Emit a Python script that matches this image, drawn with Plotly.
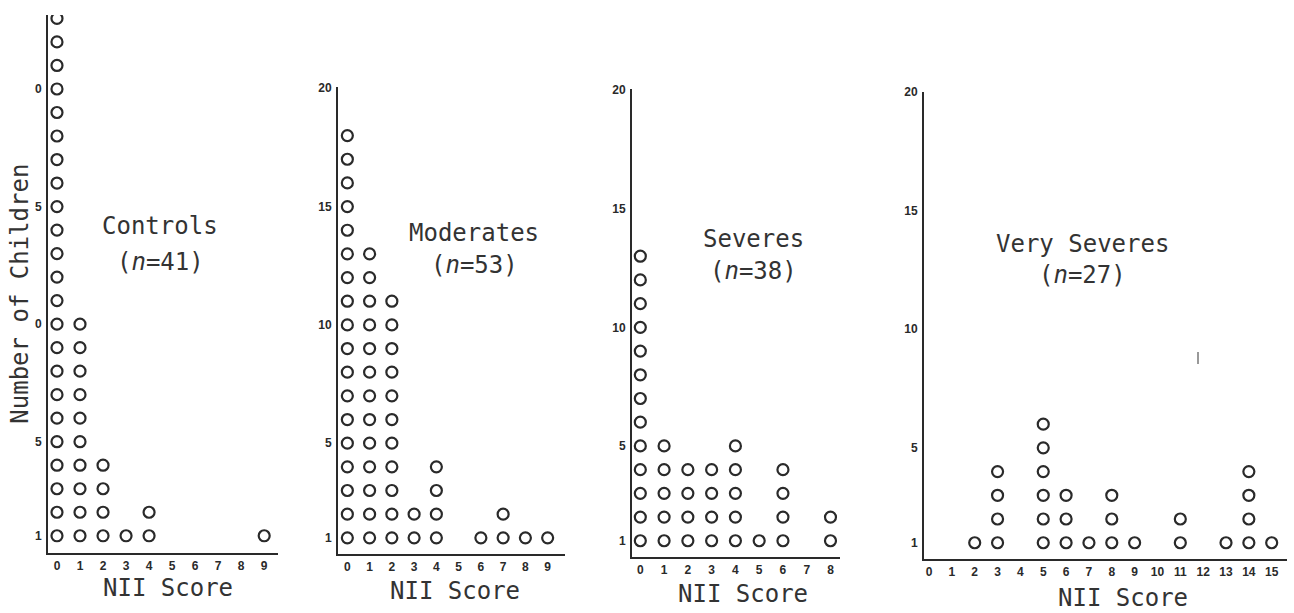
import plotly.graph_objects as go

W, H = 1294, 613

# Number of children at each NII score, one list per severity group
controls_scores = [0, 1, 2, 3, 4, 9]
controls_counts = [23, 10, 4, 1, 2, 1]

moderates_scores = [0, 1, 2, 3, 4, 6, 7, 8, 9]
moderates_counts = [18, 13, 11, 2, 4, 1, 2, 1, 1]

severes_scores = [0, 1, 2, 3, 4, 5, 6, 8]
severes_counts = [13, 5, 4, 4, 5, 1, 4, 2]

very_severes_scores = [2, 3, 5, 6, 7, 8, 9, 11, 13, 14, 15]
very_severes_counts = [1, 4, 6, 3, 1, 3, 1, 2, 1, 4, 1]

group_titles = ["Controls", "Moderates", "Severes", "Very Severes"]
group_sizes = [41, 53, 38, 27]

x_tick_sets = [list(range(10)), list(range(10)), list(range(9)), list(range(16))]
y_tick_vals = [1, 5, 10, 15, 20]
y_tick_texts = [
    ["1", "5", "0", "5", "0"],
    ["1", "5", "10", "15", "20"],
    ["1", "5", "10", "15", "20"],
    ["1", "5", "10", "15", "20"],
]

groups = [
    (controls_scores, controls_counts),
    (moderates_scores, moderates_counts),
    (severes_scores, severes_counts),
    (very_severes_scores, very_severes_counts),
]

INK = "#2a2a2a"

# Panel frames in pixels: (left, right, top, bottom) and axis ranges
frames = [
    dict(px=(48, 278, 8, 552), xr=(-0.39, 9.6), yr=(0.28, 23.15)),
    dict(px=(338, 565, 81, 553), xr=(-0.42, 9.78), yr=(0.33, 20.05)),
    dict(px=(632, 840, 83, 556), xr=(-0.35, 8.4), yr=(0.33, 20.05)),
    dict(px=(924, 1287, 86, 558), xr=(-0.22, 15.67), yr=(0.33, 20.0)),
]
title_pos = [(160, 222, 258), (474, 229, 261), (753, 235, 267), (1082, 240, 271)]
xlabel_pos = [(168, 588), (455, 591), (743, 594), (1123, 598)]

TICK_FONT = dict(family="Liberation Sans", size=12, color=INK, weight="bold")
TEXT_FONT = dict(family="DejaVu Sans Mono", size=24, color="#333333")


def fx(p):
    return p / W


def fy(p):
    return 1 - p / H


fig = go.Figure()
layout = dict(
    width=W, height=H,
    margin=dict(l=0, r=0, t=0, b=0),
    paper_bgcolor="white", plot_bgcolor="white",
    showlegend=False,
    annotations=[], shapes=[],
)

for i, ((scores, counts), fr) in enumerate(zip(groups, frames)):
    xs, ys = [], []
    for s, c in zip(scores, counts):
        for k in range(1, c + 1):
            xs.append(s)
            ys.append(k)
    n = "" if i == 0 else str(i + 1)
    fig.add_trace(go.Scatter(
        x=xs, y=ys, mode="markers",
        xaxis="x" + n, yaxis="y" + n,
        marker=dict(symbol="circle-open", size=11, color=INK,
                    line=dict(width=2.2, color=INK)),
        hoverinfo="x+y",
    ))
    l, r, t, b = fr["px"]
    layout["xaxis" + n] = dict(
        domain=[fx(l), fx(r)], range=list(fr["xr"]), anchor="y" + n,
        showline=True, linecolor=INK, linewidth=2, showgrid=False,
        zeroline=False, ticks="", tickmode="array",
        tickvals=x_tick_sets[i], ticktext=[str(v) for v in x_tick_sets[i]],
        tickfont=TICK_FONT, ticklabelstandoff=1,
    )
    layout["yaxis" + n] = dict(
        domain=[fy(b), fy(t)], range=list(fr["yr"]), anchor="x" + n,
        showline=True, linecolor=INK, linewidth=2, showgrid=False,
        zeroline=False, ticks="", tickmode="array",
        tickvals=y_tick_vals, ticktext=y_tick_texts[i],
        tickfont=TICK_FONT, ticklabelstandoff=2,
    )
    cx, y1, y2 = title_pos[i]
    layout["annotations"].append(dict(
        x=fx(cx), y=fy(y1), xref="paper", yref="paper", showarrow=False,
        text=group_titles[i], xanchor="center", yanchor="middle",
        font=TEXT_FONT,
    ))
    layout["annotations"].append(dict(
        x=fx(cx), y=fy(y2), xref="paper", yref="paper", showarrow=False,
        text="(<i>n</i>=%d)" % group_sizes[i], xanchor="center", yanchor="middle",
        font=TEXT_FONT,
    ))
    lx, ly = xlabel_pos[i]
    layout["annotations"].append(dict(
        x=fx(lx), y=fy(ly), xref="paper", yref="paper", showarrow=False,
        text="NII Score", xanchor="center", yanchor="middle",
        font=TEXT_FONT,
    ))

# Shared y-axis title
layout["annotations"].append(dict(
    x=fx(20), y=fy(290), xref="paper", yref="paper", showarrow=False,
    text="Number of Children", textangle=-90,
    xanchor="center", yanchor="middle",
    font=TEXT_FONT,
))

# Small stray stroke in the last panel
layout["shapes"].append(dict(
    type="line", xref="paper", yref="paper",
    x0=fx(1198), x1=fx(1198), y0=fy(349), y1=fy(361),
    line=dict(color="#777777", width=1.5),
))

fig.update_layout(**layout)
fig.write_html("out.html")
